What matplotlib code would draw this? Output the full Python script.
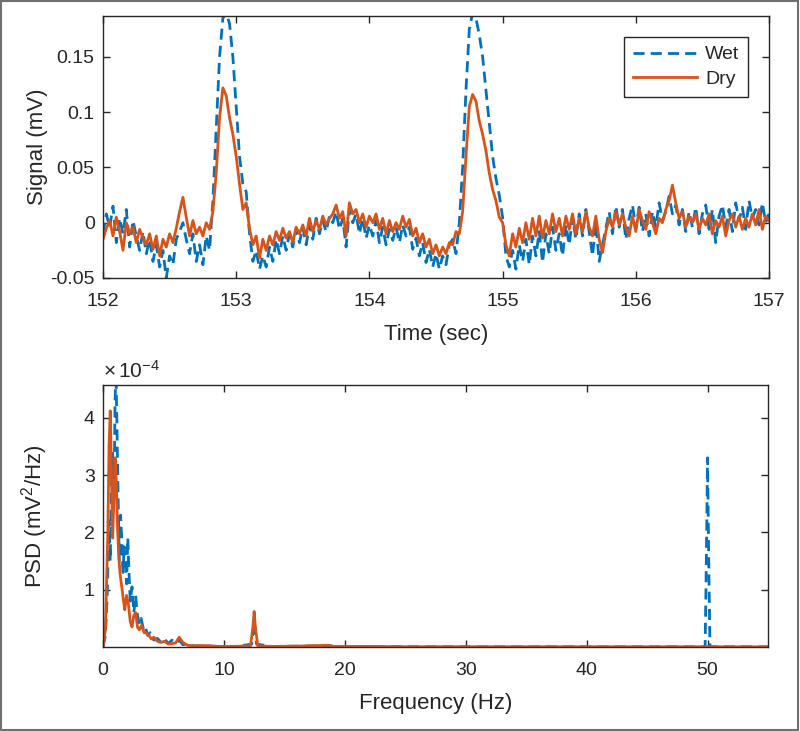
import matplotlib
matplotlib.use("Agg")
import matplotlib.pyplot as plt
import numpy as np
from matplotlib.ticker import FuncFormatter
from matplotlib.patches import Rectangle

# ---------------- data ----------------
t_start = 152.0
t_step = 0.025

dry_signal = [
    -0.015, -0.005, 0.002, -0.012, 0.005, -0.008, -0.025, 0.000, -0.010, -0.004,
    -0.018, -0.006, -0.014, -0.020, -0.010, -0.024, -0.012, -0.030, -0.015, -0.022,
    -0.010, -0.018, -0.005, 0.010, 0.023, 0.005, -0.012, 0.002, -0.010, -0.004,
    -0.012, 0.000, -0.006, 0.010, 0.045, 0.095, 0.122, 0.115, 0.095, 0.080,
    0.060, 0.035, 0.012, 0.018, -0.005, -0.020, -0.012, -0.032, -0.015, -0.025,
    -0.012, -0.020, -0.008, -0.016, -0.005, -0.014, -0.008, -0.018, -0.004, -0.010,
    -0.002, -0.012, 0.004, -0.008, 0.002, -0.006, 0.006, -0.002, 0.004, 0.008,
    0.016, 0.004, 0.010, -0.012, 0.018, 0.008, 0.012, 0.000, 0.008, -0.004,
    0.006, 0.000, 0.008, -0.006, 0.004, -0.010, 0.002, -0.008, 0.000, -0.006,
    0.006, -0.004, 0.003, -0.012, -0.005, -0.018, -0.010, -0.022, -0.015, -0.028,
    -0.020, -0.030, -0.022, -0.028, -0.018, -0.020, -0.008, -0.010, 0.010, 0.060,
    0.105, 0.116, 0.110, 0.092, 0.080, 0.065, 0.045, 0.030, 0.020, 0.005,
    0.000, -0.020, -0.030, -0.010, -0.022, -0.005, -0.018, 0.000, -0.015, 0.004,
    -0.012, 0.006, -0.014, 0.002, -0.010, 0.008, -0.008, 0.004, -0.012, 0.006,
    -0.006, 0.008, -0.010, 0.004, -0.008, 0.010, -0.004, -0.012, 0.006, -0.015,
    -0.027, -0.008, 0.004, -0.004, 0.010, -0.002, 0.008, -0.004, -0.012, 0.006,
    -0.008, 0.012, 0.002, -0.006, 0.010, 0.000, -0.010, 0.004, 0.000, 0.012,
    0.020, 0.034, 0.018, 0.004, 0.010, -0.004, 0.006, 0.000, 0.008, -0.006,
    0.004, -0.002, 0.008, -0.010, 0.002, -0.004, 0.006, -0.012, 0.002, 0.008,
    -0.004, 0.006, -0.006, 0.004, -0.004, 0.008, -0.002, 0.012, -0.006, 0.006,
    0.002,
]

wet_signal = [
    -0.010, 0.008, -0.004, 0.015, -0.018, 0.004, -0.010, 0.012, -0.022, 0.002,
    -0.012, -0.025, -0.008, -0.028, -0.015, -0.035, -0.020, -0.040, -0.025, -0.050,
    -0.030, -0.038, -0.015, -0.008, 0.000, -0.015, -0.028, -0.010, -0.035, -0.020,
    -0.038, -0.012, -0.025, 0.020, 0.085, 0.150, 0.185, 0.190, 0.180, 0.150,
    0.105, 0.060, 0.035, 0.028, -0.010, -0.035, -0.025, -0.042, -0.030, -0.040,
    -0.022, -0.035, -0.015, -0.028, -0.012, -0.025, -0.010, -0.022, -0.006, -0.018,
    -0.004, -0.020, -0.002, -0.015, 0.004, -0.010, 0.002, -0.008, 0.006, 0.000,
    0.010, -0.006, 0.004, -0.022, 0.012, 0.000, 0.008, -0.010, 0.004, -0.014,
    -0.002, -0.012, 0.002, -0.018, -0.004, -0.020, -0.006, -0.016, -0.004, -0.018,
    -0.002, -0.012, -0.004, -0.024, -0.014, -0.030, -0.018, -0.036, -0.024, -0.040,
    -0.028, -0.042, -0.030, -0.038, -0.020, -0.015, -0.028, 0.000, 0.050, 0.120,
    0.175, 0.190, 0.185, 0.170, 0.150, 0.120, 0.090, 0.060, 0.040, 0.025,
    0.005, -0.030, -0.040, -0.025, -0.042, -0.020, -0.035, -0.015, -0.038, -0.012,
    -0.030, -0.008, -0.036, -0.010, -0.028, -0.004, -0.025, -0.010, -0.030, -0.002,
    -0.020, 0.005, -0.015, 0.008, -0.012, 0.012, -0.008, -0.030, 0.000, -0.035,
    -0.020, -0.005, 0.010, -0.010, 0.015, -0.004, 0.012, -0.015, 0.004, 0.016,
    -0.005, 0.014, -0.008, 0.008, -0.012, 0.010, -0.004, 0.018, 0.002, 0.010,
    0.024, 0.008, 0.016, -0.002, 0.012, -0.008, 0.010, -0.004, 0.014, -0.010,
    0.008, 0.016, -0.006, 0.012, -0.018, 0.006, 0.016, -0.004, 0.012, -0.008,
    0.018, 0.002, 0.014, -0.006, 0.020, 0.004, 0.012, -0.002, 0.018, 0.000,
    0.008,
]

dry_freq = [0, 0.2, 0.4, 0.5, 0.6, 0.7, 0.8, 0.9, 1.0, 1.1, 1.2, 1.3, 1.4, 1.55,
            1.7, 1.8, 1.95, 2.1, 2.25, 2.4, 2.55, 2.7, 2.85, 3.0, 3.2, 3.4, 3.6,
            3.8, 4.0, 4.2, 4.5, 4.8, 5.1, 5.4, 5.7, 6.0, 6.3, 6.6, 7.0, 7.5, 8.5,
            9.5, 10.5, 11.5, 12.2, 12.4, 12.5, 12.6, 12.8, 14, 16, 18.7, 19, 22,
            25, 30, 40, 49.9, 50, 50.1, 55]
dry_psd_e4 = [0, 0.3, 2.0, 3.5, 4.12, 3.0, 1.9, 2.6, 3.3, 2.9, 2.1, 1.6, 1.3, 1.05,
              0.8, 0.65, 0.9, 0.75, 0.45, 0.35, 0.55, 0.6, 0.35, 0.3, 0.38, 0.25, 0.24,
              0.2, 0.14, 0.17, 0.1, 0.08, 0.1, 0.05, 0.06, 0.07, 0.17, 0.08, 0.03, 0.02, 0.025,
              0.01, 0.01, 0.015, 0.02, 0.35, 0.62, 0.35, 0.02, 0.01, 0.015, 0.03, 0.01, 0.01,
              0.005, 0.005, 0.004, 0.004, 0.01, 0.004, 0.003]

wet_freq = [0, 0.2, 0.35, 0.5, 0.6, 0.7, 0.8, 0.9, 1.0, 1.07, 1.15, 1.25, 1.35,
            1.45, 1.55, 1.65, 1.75, 1.85, 1.95, 2.05, 2.15, 2.25, 2.4, 2.55, 2.7,
            2.85, 3.0, 3.15, 3.35, 3.5, 3.7, 3.9, 4.2, 4.5, 4.8, 5.1, 5.4, 5.7, 6.0,
            6.3, 6.6, 7.0, 7.5, 8.5, 9.5, 11, 12.3, 12.5, 12.7, 14, 18.7, 20, 30, 40,
            49.8, 49.9, 50.0, 50.1, 50.2, 55]
wet_psd_e4 = [0, 0.2, 0.9, 2.2, 1.5, 2.9, 3.4, 2.5, 4.3, 4.8, 3.9, 2.6, 1.5,
              2.3, 1.9, 1.3, 1.75, 1.5, 1.1, 1.9, 1.3, 0.8, 1.05, 0.6, 0.9,
              0.55, 0.4, 0.5, 0.3, 0.35, 0.2, 0.25, 0.12, 0.15, 0.08, 0.14, 0.06, 0.12, 0.06,
              0.12, 0.04, 0.05, 0.02, 0.02, 0.01, 0.01, 0.05, 0.45, 0.05, 0.01, 0.02, 0.005, 0.004, 0.004,
              0.004, 1.5, 3.3, 1.5, 0.004, 0.003]

series_labels = ["Wet", "Dry"]

# ---------------- style ----------------
fam = "Liberation Sans"
plt.rcParams["font.family"] = [fam, "DejaVu Sans"]
plt.rcParams["mathtext.fontset"] = "custom"
plt.rcParams["mathtext.rm"] = fam
plt.rcParams["mathtext.it"] = fam

DARK = "#262626"
BLUE = "#0072BD"
ORANGE = "#D95319"
TICK_FS = 14
LABEL_FS = 16

fig = plt.figure(figsize=(8.0, 7.31), dpi=100)
fig.patches.append(Rectangle((0.001, 0.001), 0.997, 0.997, transform=fig.transFigure,
                             fill=False, edgecolor="#707070", linewidth=1.5))

ax1 = fig.add_axes([103 / 800, 1 - 278 / 731, 666 / 800, 262 / 731])
ax2 = fig.add_axes([103 / 800, 1 - 647 / 731, 665 / 800, 262 / 731])

t = t_start + t_step * np.arange(len(dry_signal))

ax1.plot(t, wet_signal, color=BLUE, lw=2.0, dashes=(4.0, 2.2), label=series_labels[0])
ax1.plot(t, dry_signal, color=ORANGE, lw=2.0, label=series_labels[1])
ax1.set_xlim(152, 157)
ax1.set_ylim(-0.05, 0.187)
ax1.set_xticks([152, 153, 154, 155, 156, 157])
ax1.set_yticks([-0.05, 0, 0.05, 0.1, 0.15])
ax1.yaxis.set_major_formatter(FuncFormatter(lambda v, p: ("%g" % round(v, 4))))
ax1.set_xlabel("Time (sec)", fontsize=LABEL_FS, color=DARK, labelpad=10)
ax1.set_ylabel("Signal (mV)", fontsize=LABEL_FS, color=DARK)
ax1.yaxis.set_label_coords(-0.082, 0.5)

leg = ax1.legend(loc="upper right", bbox_to_anchor=(1 - 21 / 666, 1 - 21 / 262),
                 borderaxespad=0, fancybox=False, framealpha=1, edgecolor=DARK,
                 fontsize=TICK_FS, handlelength=3.3, handletextpad=0.4, borderpad=0.45,
                 labelspacing=0.35)
leg.get_frame().set_linewidth(1.0)
for txt in leg.get_texts():
    txt.set_color(DARK)

ax2.plot(wet_freq, np.array(wet_psd_e4) * 1e-4, color=BLUE, lw=2.0, dashes=(4.0, 2.2))
ax2.plot(dry_freq, np.array(dry_psd_e4) * 1e-4, color=ORANGE, lw=2.0)
ax2.set_xlim(0, 55)
ax2.set_ylim(0, 4.57e-4)
ax2.set_xticks([0, 10, 20, 30, 40, 50])
ax2.set_yticks([1e-4, 2e-4, 3e-4, 4e-4])
ax2.set_yticklabels(["1", "2", "3", "4"])
ax2.set_xlabel("Frequency (Hz)", fontsize=LABEL_FS, color=DARK, labelpad=10)
ax2.set_ylabel("PSD (mV$^2$/Hz)", fontsize=LABEL_FS, color=DARK)
ax2.yaxis.set_label_coords(-0.08, 0.5)
ax2.text(0.0, 1.012, r"$\times\,$10$^{-4}$", transform=ax2.transAxes, ha="left", va="bottom",
         fontsize=15, color=DARK)

for ax in (ax1, ax2):
    for s in ax.spines.values():
        s.set_color(DARK)
        s.set_linewidth(1.0)
    ax.tick_params(direction="in", length=5, width=1.0, colors=DARK, labelsize=TICK_FS,
                   top=True, right=True, pad=6)
    ax.tick_params(axis="x", pad=11)

fig.savefig("out.png", dpi=100)
